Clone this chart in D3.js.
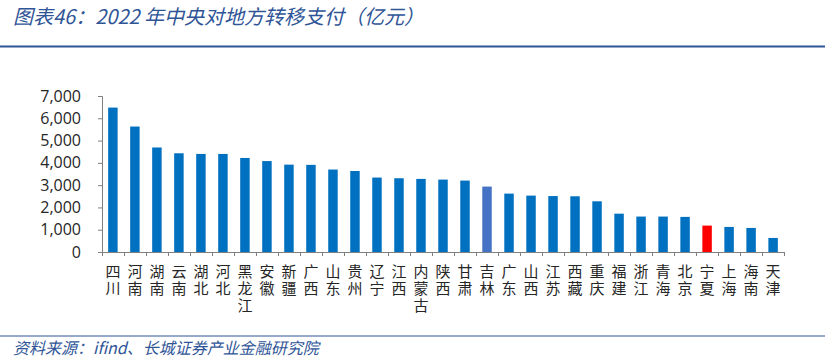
<!DOCTYPE html>
<html>
<head>
<meta charset="utf-8">
<script src="https://cdn.jsdelivr.net/npm/d3@7"></script>
<style>
  body { margin: 0; background: #fff; }
  svg { display: block; }
</style>
</head>
<body>
<div id="chart"></div>
<script>
// data
var provinces = ["四川","河南","湖南","云南","湖北","河北","黑龙江","安徽","新疆","广西",
  "山东","贵州","辽宁","江西","内蒙古","陕西","甘肃","吉林","广东","山西",
  "江苏","西藏","重庆","福建","浙江","青海","北京","宁夏","上海","海南","天津"];
var transfers = [6480,5630,4690,4430,4400,4400,4220,4080,3920,3910,
  3700,3635,3340,3310,3280,3250,3205,2935,2620,2530,
  2510,2500,2275,1720,1590,1590,1575,1185,1125,1080,630];
var yTicks = [0,1000,2000,3000,4000,5000,6000,7000];
var highlight = {"吉林": "#4472C4", "宁夏": "#FF0000"};

var W = 825, H = 359;
var margin = {top: 96, left: 102, right: 41, bottom: 107};
var width = W - margin.left - margin.right,
    height = H - margin.top - margin.bottom;

var svg = d3.select("#chart").append("svg")
  .attr("width", W).attr("height", H);

// title + rules
svg.append("text")
  .attr("x", 13).attr("y", 24)
  .attr("fill", "#2F5597")
  .style("font-family", "'Noto Sans CJK SC', sans-serif")
  .style("font-size", "20px")
  .style("font-style", "italic")
  .text("图表46：2022 年中央对地方转移支付（亿元）");
svg.append("line").attr("x1", 0).attr("x2", W).attr("y1", 46.5).attr("y2", 46.5)
  .attr("stroke", "#2F5597").attr("stroke-width", 2);
svg.append("line").attr("x1", 0).attr("x2", W).attr("y1", 336).attr("y2", 336)
  .attr("stroke", "#2F5597").attr("stroke-width", 1.2);
svg.append("text")
  .attr("x", 13).attr("y", 354)
  .attr("fill", "#2F5597")
  .style("font-family", "'Noto Sans CJK SC', sans-serif")
  .style("font-size", "16px")
  .style("font-style", "italic")
  .text("资料来源：ifind、长城证券产业金融研究院");

var g = svg.append("g")
  .attr("transform", "translate(" + margin.left + "," + margin.top + ")");

var x = d3.scaleBand().domain(provinces).range([0, width]).paddingInner(0.57).paddingOuter(0.28);
var y = d3.scaleLinear().domain([0, 7000]).range([height, 0]);

// bars
g.selectAll("rect.bar")
  .data(provinces)
  .enter().append("rect")
    .attr("class", "bar")
    .attr("x", function(d) { return x(d); })
    .attr("width", x.bandwidth())
    .attr("y", function(d, i) { return y(transfers[i]); })
    .attr("height", function(d, i) { return height - y(transfers[i]); })
    .attr("fill", function(d) { return highlight[d] || "#0070C0"; });

// y axis
var yAxis = g.append("g")
  .call(d3.axisLeft(y).tickValues(yTicks).tickFormat(d3.format(",")).tickSize(4).tickPadding(17));
yAxis.select(".domain").attr("stroke", "#7f7f7f");
yAxis.selectAll(".tick line").attr("stroke", "#7f7f7f");
yAxis.selectAll("text")
  .attr("fill", "#262626")
  .style("font-family", "'Open Sans', 'Noto Sans', sans-serif")
  .style("font-size", "16px");

// x axis line with ticks at band boundaries
var bounds = d3.range(provinces.length + 1).map(function(i) { return i * width / provinces.length; });
g.append("line")
  .attr("x1", 0).attr("x2", width).attr("y1", height + 0.5).attr("y2", height + 0.5)
  .attr("stroke", "#7f7f7f");
g.selectAll("line.xt")
  .data(bounds)
  .enter().append("line")
    .attr("class", "xt")
    .attr("x1", function(d) { return d + 0.5; }).attr("x2", function(d) { return d + 0.5; })
    .attr("y1", height).attr("y2", height + 4)
    .attr("stroke", "#7f7f7f");

// vertical category labels (top-to-bottom writing)
g.selectAll("text.cat")
  .data(provinces)
  .enter().append("text")
    .attr("class", "cat")
    .attr("fill", "#262626")
    .style("font-family", "'Noto Sans CJK SC', sans-serif")
    .style("font-size", "15px")
    .style("writing-mode", "vertical-rl")
    .style("letter-spacing", "2px")
    .attr("x", function(d) { return x(d) + x.bandwidth() / 2; })
    .attr("y", height + 12)
    .text(function(d) { return d; });
</script>
</body>
</html>
